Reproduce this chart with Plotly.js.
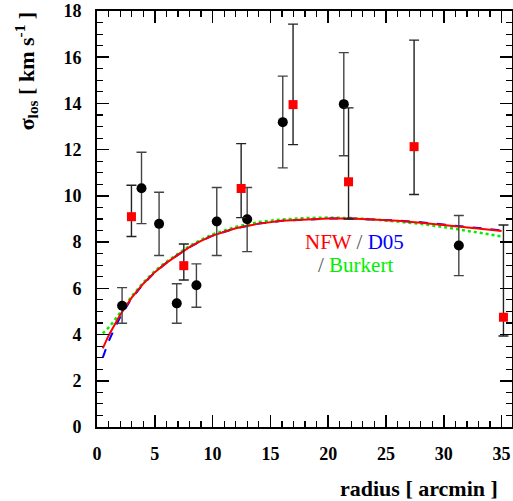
<!DOCTYPE html>
<html>
<head>
<meta charset="utf-8">
<script src="https://cdn.plot.ly/plotly-3.0.1.min.js"></script>
<style>html,body{margin:0;padding:0;background:#fff}#chart{width:513px;height:501px}</style>
</head>
<body>
<div id="chart"></div>
<script>
// Observed data: black circles
var radiusCircle = [2.17, 3.85, 5.37, 6.9, 8.6, 10.36, 12.99, 16.07, 21.35, 31.3];
var sigmaCircle  = [5.25, 10.33, 8.79, 5.35, 6.13, 8.89, 8.99, 13.19, 13.97, 7.85];
var upperCircle  = [6.03, 11.89, 10.16, 6.2, 7.06, 10.36, 10.36, 15.18, 16.2, 9.15];
var lowerCircle  = [4.49, 8.80, 7.42, 4.49, 5.18, 7.42, 7.59, 11.21, 11.74, 6.55];

// Observed data: red squares
var radiusSquare = [2.98, 7.51, 12.47, 16.96, 21.76, 27.43, 35.16];
var sigmaSquare  = [9.1, 6.98, 10.32, 13.95, 10.61, 12.13, 4.75];
var upperSquare  = [10.46, 7.92, 12.26, 17.43, 13.81, 16.74, 8.74];
var lowerSquare  = [8.24, 6.36, 9.06, 12.22, 9.0, 10.06, 3.94];

// Model curves
var radiusModel = [0.5, 1, 1.5, 2, 3, 4, 5, 6, 7, 8, 9, 10, 12, 14, 16, 18, 20, 22, 24, 26, 28, 30, 32, 34, 35];
var sigmaNFW     = [3.4, 3.95, 4.4, 4.85, 5.6, 6.2, 6.7, 7.1, 7.45, 7.78, 8.05, 8.28, 8.6, 8.8, 8.92, 8.98, 9.02, 9.02, 8.98, 8.92, 8.84, 8.75, 8.65, 8.54, 8.48];
var sigmaD05     = [3.0, 3.7, 4.25, 4.75, 5.57, 6.18, 6.69, 7.1, 7.45, 7.78, 8.05, 8.28, 8.6, 8.8, 8.92, 8.98, 9.02, 9.02, 8.98, 8.93, 8.86, 8.77, 8.67, 8.56, 8.5];
var sigmaBurkert = [4.05, 4.3, 4.6, 4.95, 5.65, 6.25, 6.75, 7.15, 7.5, 7.83, 8.1, 8.33, 8.66, 8.87, 8.98, 9.04, 9.06, 9.04, 8.98, 8.9, 8.79, 8.65, 8.5, 8.33, 8.24];

var xTickVals = [0, 5, 10, 15, 20, 25, 30, 35];
var yTickVals = [0, 2, 4, 6, 8, 10, 12, 14, 16, 18];

function diff(a, b) { return a.map(function (v, i) { return v - b[i]; }); }

var serif = 'Liberation Serif, Times New Roman, serif';

var traces = [
  {x: radiusModel, y: sigmaBurkert, mode: 'lines', line: {color: '#00ee00', width: 2.5, dash: 'dot'}, hoverinfo: 'skip'},
  {x: radiusModel, y: sigmaD05, mode: 'lines', line: {color: '#0000ff', width: 2, dash: 'dash'}, hoverinfo: 'skip'},
  {x: radiusModel, y: sigmaNFW, mode: 'lines', line: {color: '#ff0000', width: 2}, hoverinfo: 'skip'},
  {x: radiusCircle, y: sigmaCircle, mode: 'markers', marker: {symbol: 'circle', size: 10, color: '#000'},
   error_y: {type: 'data', symmetric: false, array: diff(upperCircle, sigmaCircle), arrayminus: diff(sigmaCircle, lowerCircle), color: '#444', thickness: 1.4, width: 5}},
  {x: radiusSquare, y: sigmaSquare, mode: 'markers', marker: {symbol: 'square', size: 9, color: '#ff0000'},
   error_y: {type: 'data', symmetric: false, array: diff(upperSquare, sigmaSquare), arrayminus: diff(sigmaSquare, lowerSquare), color: '#222', thickness: 1.4, width: 5}}
];

var axisCommon = {
  showline: true, linecolor: '#000', linewidth: 2, mirror: 'allticks',
  ticks: 'inside', ticklen: 12, tickwidth: 1.5, tickcolor: '#000',
  showgrid: false, zeroline: false,
  tickfont: {family: serif, size: 18, color: '#000', weight: 'bold'}
};

var layout = {
  width: 513, height: 501,
  margin: {l: 97, r: 1, t: 11, b: 74},
  paper_bgcolor: '#fff', plot_bgcolor: '#fff',
  showlegend: false,
  font: {family: serif},
  xaxis: Object.assign({}, axisCommon, {
    range: [0, 35.9], tickmode: 'array', tickvals: xTickVals, ticktext: xTickVals.map(String),
    minor: {dtick: 1, ticks: 'inside', ticklen: 6, tickwidth: 1.2, tickcolor: '#000'},
    ticklabelstandoff: 9
  }),
  yaxis: Object.assign({}, axisCommon, {
    range: [0, 18], tickmode: 'array', tickvals: yTickVals, ticktext: yTickVals.map(String),
    minor: {dtick: 0.5, ticks: 'inside', ticklen: 6, tickwidth: 1.2, tickcolor: '#000'},
    ticklabelstandoff: 10
  }),
  annotations: [
    {xref: 'x', yref: 'y', x: 22.3, y: 8.0, showarrow: false,
     text: '<span style="color:#ff0000">NFW</span><span style="color:#555"> / </span><span style="color:#0000ff">D05</span>',
     font: {family: serif, size: 21}},
    {xref: 'x', yref: 'y', x: 22.4, y: 7.0, showarrow: false,
     text: '<span style="color:#555">/ </span><span style="color:#00ee00">Burkert</span>',
     font: {family: serif, size: 21}},
    {xref: 'paper', yref: 'paper', x: -0.17, y: 0.856, xanchor: 'center', yanchor: 'middle', showarrow: false,
     textangle: -90, text: '<b>σ<sub>los</sub> [ km s<sup>-1</sup> ]</b>',
     font: {family: serif, size: 22, color: '#000'}},
    {xref: 'paper', yref: 'paper', x: 0.971, y: -0.149, xanchor: 'right', yanchor: 'middle', showarrow: false,
     text: '<b>radius [ arcmin ]</b>',
     font: {family: serif, size: 22, color: '#000'}}
  ]
};

Plotly.newPlot('chart', traces, layout, {staticPlot: true, displayModeBar: false});
</script>
</body>
</html>
